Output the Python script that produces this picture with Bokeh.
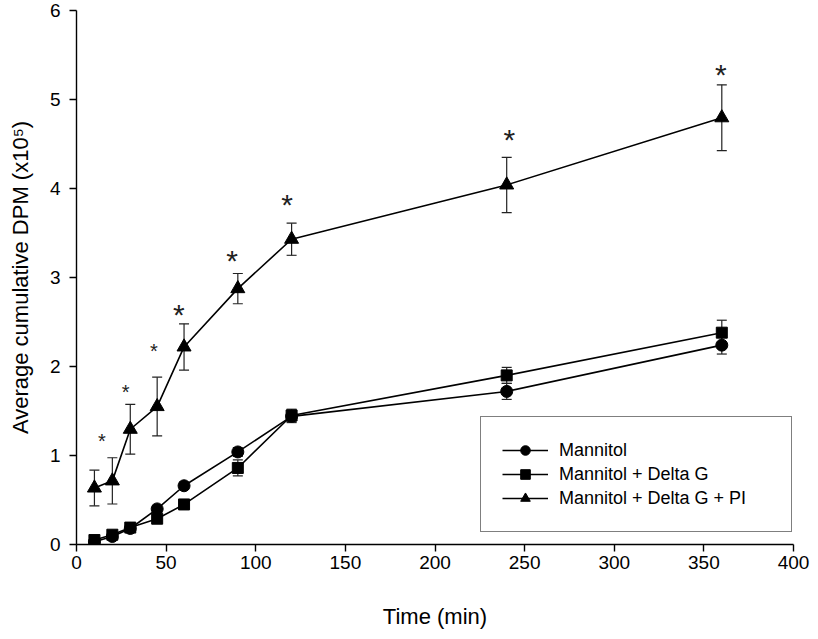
from bokeh.plotting import figure
from bokeh.models import (Range1d, Whisker, TeeHead, ColumnDataSource,
                          Legend, LegendItem, FixedTicker)
from bokeh.core.properties import value
from bokeh.embed import file_html
from bokeh.resources import INLINE

# ---- data ----
time_min = [10, 20, 30, 45, 60, 90, 120, 240, 360]

mannitol = [0.03, 0.09, 0.18, 0.40, 0.66, 1.04, 1.44, 1.72, 2.24]
mannitol_err = [0.02, 0.02, 0.03, 0.04, 0.04, 0.05, 0.07, 0.09, 0.10]

delta_g = [0.05, 0.11, 0.19, 0.29, 0.45, 0.86, 1.45, 1.90, 2.38]
delta_g_err = [0.02, 0.03, 0.03, 0.03, 0.04, 0.09, 0.07, 0.09, 0.14]

delta_g_pi = [0.635, 0.715, 1.295, 1.55, 2.22, 2.875, 3.43, 4.04, 4.795]
delta_g_pi_err = [0.20, 0.26, 0.28, 0.33, 0.26, 0.17, 0.18, 0.31, 0.37]

star_time = [14.2, 27.4, 43.2, 57.1, 86.8, 117.5, 241.5, 359.4]
star_level = [1.30, 1.85, 2.31, 2.79, 3.39, 4.02, 4.75, 5.48]

series_names = ["Mannitol", "Mannitol + Delta G", "Mannitol + Delta G + PI"]
x_ticks = [0, 50, 100, 150, 200, 250, 300, 350, 400]
y_ticks = [0, 1, 2, 3, 4, 5, 6]
x_title = "Time (min)"
y_title = "Average cumulative DPM (x10\u2075)"

FONT = "Liberation Sans"

p = figure(width=810, height=631, output_backend="svg", toolbar_location=None,
           x_range=Range1d(0, 400), y_range=Range1d(0, 6),
           min_border_left=76, min_border_right=17, min_border_top=10,
           min_border_bottom=87)
p.outline_line_color = None
p.grid.visible = False
p.background_fill_color = "white"

for ax in (p.xaxis[0], p.yaxis[0]):
    ax.axis_line_color = "black"
    ax.axis_line_width = 1.4
    ax.major_tick_line_color = "black"
    ax.major_tick_line_width = 1.4
    ax.major_tick_out = 7
    ax.major_tick_in = 0
    ax.minor_tick_line_color = None
    ax.major_label_text_font = FONT
    ax.major_label_text_font_size = "19px"
    ax.major_label_text_color = "black"
    ax.axis_label_text_font = FONT
    ax.axis_label_text_font_size = "22px"
    ax.axis_label_text_font_style = "normal"
    ax.axis_label_text_color = "black"

p.xaxis.ticker = FixedTicker(ticks=x_ticks)
p.yaxis.ticker = FixedTicker(ticks=y_ticks)
p.xaxis.major_label_standoff = 4
p.yaxis.major_label_standoff = 9

p.xaxis.axis_label = x_title
p.xaxis.axis_label_standoff = 32
p.yaxis.axis_label = y_title
p.yaxis.axis_label_standoff = 14

ERR = "#222222"
series = [
    (mannitol, mannitol_err, "circle", 12),
    (delta_g, delta_g_err, "square", 11),
    (delta_g_pi, delta_g_pi_err, "triangle", 14),
]

items = []
for (vals, errs, marker, size), name in zip(series, series_names):
    src = ColumnDataSource(dict(
        x=time_min, y=vals,
        upper=[v + e for v, e in zip(vals, errs)],
        lower=[v - e for v, e in zip(vals, errs)]))
    w = Whisker(source=src, base="x", upper="upper", lower="lower",
                dimension="height", line_color=ERR, line_width=1.2,
                upper_head=TeeHead(size=10, line_color=ERR, line_width=1.2),
                lower_head=TeeHead(size=10, line_color=ERR, line_width=1.2))
    p.add_layout(w)
    ln = p.line("x", "y", source=src, line_color="black", line_width=1.6)
    mk = p.scatter("x", "y", source=src, marker=marker, size=size,
                   fill_color="black", line_color="black")
    items.append(LegendItem(label=name, renderers=[ln, mk]))

# significance asterisks
star_src_small = ColumnDataSource(dict(x=star_time[:3], y=star_level[:3],
                                       t=["*"] * 3))
star_src_big = ColumnDataSource(dict(x=star_time[3:], y=star_level[3:],
                                     t=["*"] * (len(star_time) - 3)))
p.text("x", "y", text="t", source=star_src_small, text_font=value(FONT),
       text_font_size="20px", text_align="center",
       text_baseline="alphabetic", y_offset=12, text_color="#222222")
p.text("x", "y", text="t", source=star_src_big, text_font=value(FONT),
       text_font_size="30px", text_align="center",
       text_baseline="alphabetic", y_offset=18, text_color="#222222")

legend = Legend(items=items, location=(404, 12), margin=0, padding=21,
                spacing=-5, label_height=24, glyph_height=24, glyph_width=46,
                label_standoff=11, label_width=211,
                label_text_font=FONT, label_text_font_size="18px",
                label_text_color="black",
                border_line_color="black", border_line_width=1,
                background_fill_color="white", background_fill_alpha=1)
p.add_layout(legend)

open("out.html", "w").write(file_html(p, INLINE))
